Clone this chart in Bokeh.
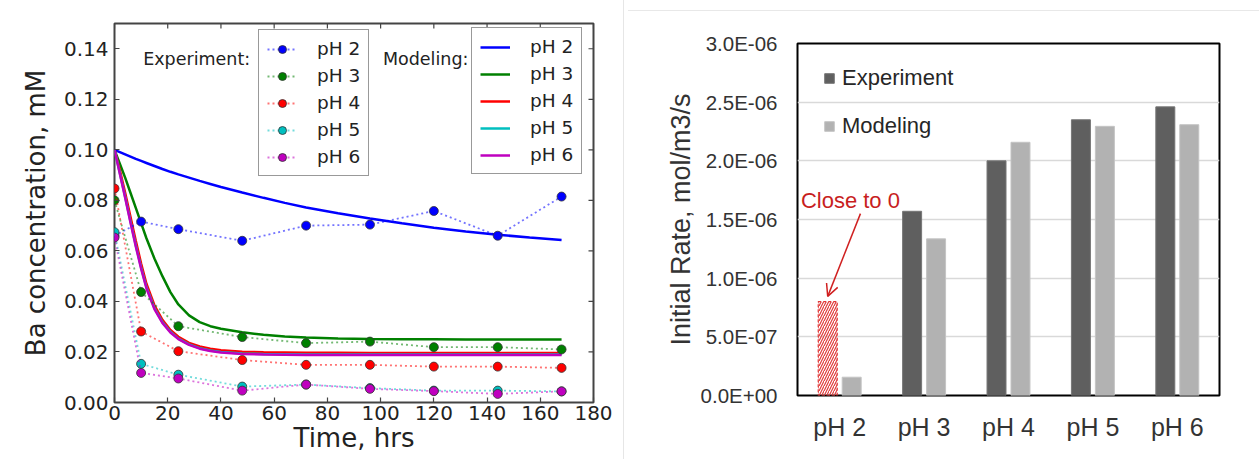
import math
from bokeh.plotting import figure
from bokeh.models import (Range1d, FixedTicker, SingleIntervalTicker, Legend, LegendItem,
                          Label, Arrow, OpenHead, ColumnDataSource, FactorRange, CustomJSTickFormatter,
                          CDSView, IndexFilter, Div, Spacer, NumeralTickFormatter)
from bokeh.layouts import row, column
from bokeh.transform import dodge
from bokeh.embed import file_html
from bokeh.resources import INLINE

# ---------------- data: left chart ----------------
ph_labels = ["pH 2", "pH 3", "pH 4", "pH 5", "pH 6"]
t_exp = [0, 10, 24, 48, 72, 96, 120, 144, 168]
exp_ph2 = [0.0660, 0.0716, 0.0686, 0.0640, 0.0700, 0.0704, 0.0758, 0.0660, 0.0815]
exp_ph3 = [0.0800, 0.0437, 0.0302, 0.0259, 0.0235, 0.0241, 0.0219, 0.0219, 0.0210]
exp_ph4 = [0.0847, 0.0281, 0.0203, 0.0168, 0.0149, 0.0149, 0.0142, 0.0142, 0.0137]
exp_ph5 = [0.0674, 0.0153, 0.0110, 0.0063, 0.0071, 0.0057, 0.0047, 0.0047, 0.0044]
exp_ph6 = [0.0653, 0.0117, 0.0095, 0.0047, 0.0071, 0.0054, 0.0045, 0.0034, 0.0044]

t_model = [0, 2, 4, 6, 8, 10, 12, 15, 18, 21, 24, 28, 32, 36, 40, 48, 56, 64, 72, 84, 96, 108, 120, 132, 144, 156, 168]
mod_ph2 = [0.1000, 0.0991, 0.0982, 0.0973, 0.0964, 0.0956, 0.0948, 0.0936, 0.0924, 0.0913, 0.0903, 0.0890,
           0.0877, 0.0865, 0.0853, 0.0831, 0.0810, 0.0790, 0.0772, 0.0749, 0.0728, 0.0709, 0.0692, 0.0677,
           0.0664, 0.0653, 0.0643]
mod_ph3 = [0.1000, 0.0945, 0.0890, 0.0830, 0.0770, 0.0710, 0.0650, 0.0570, 0.0500, 0.0437, 0.0388, 0.0345,
           0.0318, 0.0302, 0.0292, 0.0278, 0.0268, 0.0261, 0.0257, 0.0253, 0.0251, 0.0250, 0.0250, 0.0249,
           0.0249, 0.0249, 0.0249]
mod_ph4 = [0.1000, 0.0920, 0.0830, 0.0735, 0.0640, 0.0550, 0.0470, 0.0385, 0.0327, 0.0287, 0.0260, 0.0236,
           0.0222, 0.0213, 0.0207, 0.0201, 0.0199, 0.0198, 0.0197, 0.0197, 0.0196, 0.0196, 0.0196, 0.0196,
           0.0196, 0.0196, 0.0196]
mod_ph5 = [0.1000, 0.0908, 0.0814, 0.0716, 0.0622, 0.0534, 0.0456, 0.0374, 0.0318, 0.0280, 0.0253, 0.0230,
           0.0215, 0.0206, 0.0200, 0.0194, 0.0192, 0.0191, 0.0190, 0.0190, 0.0190, 0.0190, 0.0190, 0.0190,
           0.0190, 0.0190, 0.0190]
mod_ph6 = [0.1000, 0.0905, 0.0810, 0.0712, 0.0618, 0.0530, 0.0452, 0.0370, 0.0315, 0.0277, 0.0251, 0.0228,
           0.0213, 0.0204, 0.0198, 0.0192, 0.0190, 0.0189, 0.0188, 0.0188, 0.0188, 0.0188, 0.0188, 0.0188,
           0.0188, 0.0188, 0.0188]
x_ticks = [0, 20, 40, 60, 80, 100, 120, 140, 160, 180]
y_ticks = [0.00, 0.02, 0.04, 0.06, 0.08, 0.10, 0.12, 0.14]

# ---------------- data: right chart ----------------
rate_cats = ["pH 2", "pH 3", "pH 4", "pH 5", "pH 6"]
rate_exp = [0.80e-6, 1.57e-6, 2.00e-6, 2.35e-6, 2.46e-6]
rate_mod = [0.156e-6, 1.335e-6, 2.158e-6, 2.294e-6, 2.308e-6]

# ---------------- left chart ----------------
FONT_L = "DejaVu Sans"
colors = ["#0000ff", "#008000", "#ff0000", "#00bfbf", "#bf00bf"]
X_MAX, Y_MAX = 180, 0.15

p1 = figure(width=623, height=459, x_range=Range1d(0, X_MAX), y_range=Range1d(0, Y_MAX),
            output_backend="svg", toolbar_location=None,
            min_border_left=114, min_border_right=30, min_border_top=23, min_border_bottom=57)
p1.grid.visible = False
p1.outline_line_color = "#444444"
p1.outline_line_width = 2
p1.background_fill_color = "white"
p1.border_fill_color = "white"

def style_axis(ax):
    ax.axis_line_color = None
    ax.major_tick_in = 5
    ax.major_tick_out = 0
    ax.major_tick_line_color = "#444444"
    ax.major_tick_line_width = 1.2
    ax.minor_tick_line_color = None
    ax.major_label_text_font = FONT_L
    ax.major_label_text_font_size = "20px"
    ax.major_label_text_color = "#222222"
    ax.axis_label_text_font = FONT_L
    ax.axis_label_text_font_size = "26px"
    ax.axis_label_text_font_style = "normal"
    ax.axis_label_text_color = "#222222"

p1.xaxis.ticker = FixedTicker(ticks=x_ticks)
p1.yaxis.ticker = FixedTicker(ticks=y_ticks)
p1.yaxis.formatter = NumeralTickFormatter(format="0.00")
style_axis(p1.xaxis[0])
style_axis(p1.yaxis[0])
p1.xaxis.axis_label = "Time, hrs"
p1.yaxis.axis_label = "Ba concentration, mM"
p1.xaxis.major_label_standoff = 3
p1.yaxis.major_label_standoff = 6
p1.xaxis.axis_label_standoff = 0
p1.yaxis.axis_label_standoff = 10

# inward tick marks on the top and right edges (half of each dash is clipped by the frame)
p1.scatter(x=x_ticks, y=[Y_MAX] * len(x_ticks), marker="dash", angle=math.pi / 2, size=10,
           line_color="#444444", line_width=1.2)
p1.scatter(x=[X_MAX] * len(y_ticks), y=y_ticks, marker="dash", size=10,
           line_color="#444444", line_width=1.2)

exp_series = [exp_ph2, exp_ph3, exp_ph4, exp_ph5, exp_ph6]
mod_series = [mod_ph2, mod_ph3, mod_ph4, mod_ph5, mod_ph6]

mod_items = []
for lab, ys, c in zip(ph_labels, mod_series, colors):
    r = p1.line(t_model, ys, line_color=c, line_width=2.5)
    mod_items.append(LegendItem(label=lab, renderers=[r]))

exp_items = []
for lab, ys, c in zip(ph_labels, exp_series, colors):
    rl = p1.line(t_exp, ys, line_color=c, line_width=1.8, line_alpha=0.55, line_dash="2 3")
    rs = p1.scatter(t_exp, ys, size=9, fill_color=c, line_color="#333333", line_width=0.8)
    exp_items.append(LegendItem(label=lab, renderers=[rl, rs]))

def style_legend(leg):
    leg.label_text_font = FONT_L
    leg.label_text_font_size = "18.5px"
    leg.label_text_color = "#222222"
    leg.glyph_width = 30
    leg.glyph_height = 20
    leg.label_height = 20
    leg.spacing = 6
    leg.padding = 8
    leg.label_standoff = 20
    leg.margin = 0
    leg.border_line_color = "#333333"
    leg.border_line_width = 1.5
    leg.background_fill_color = "white"
    leg.background_fill_alpha = 1.0

leg_exp = Legend(items=exp_items, location=(144, 226))
style_legend(leg_exp)
leg_mod = Legend(items=mod_items, location=(357, 228))
style_legend(leg_mod)
p1.add_layout(leg_exp, "center")
p1.add_layout(leg_mod, "center")

p1.add_layout(Label(x=51, y=0.136, text="Experiment:", text_align="right", text_baseline="middle",
                    text_font=FONT_L, text_font_size="17.5px", text_color="#222222"))
p1.add_layout(Label(x=133, y=0.136, text="Modeling:", text_align="right", text_baseline="middle",
                    text_font=FONT_L, text_font_size="17.5px", text_color="#222222"))

# ---------------- right chart ----------------
FONT_R = "Liberation Sans"
src = ColumnDataSource(dict(cat=rate_cats, exp=rate_exp, mod=rate_mod))

p2 = figure(width=635, height=448, x_range=FactorRange(factors=rate_cats, range_padding=0),
            y_range=Range1d(0, 3e-6), output_backend="svg", toolbar_location=None,
            min_border_left=173, min_border_right=40, min_border_top=32, min_border_bottom=64)
p2.outline_line_color = "black"
p2.outline_line_width = 2
p2.xgrid.visible = False
p2.ygrid.grid_line_color = "#d9d9d9"
p2.ygrid.grid_line_width = 1.5
p2.yaxis.ticker = SingleIntervalTicker(interval=5e-7, num_minor_ticks=0)
p2.yaxis.formatter = CustomJSTickFormatter(code="""
const s = tick.toExponential(1);
const parts = s.split('e');
const n = parseInt(parts[1]);
const a = Math.abs(n);
return parts[0] + 'E' + (n < 0 ? '-' : '+') + (a < 10 ? '0' + a : '' + a);
""")
for ax in [p2.xaxis[0], p2.yaxis[0]]:
    ax.axis_line_color = None
    ax.major_tick_line_color = None
    ax.minor_tick_line_color = None
    ax.major_label_text_font = FONT_R
    ax.major_label_text_color = "#333333"
    ax.axis_label_text_font = FONT_R
    ax.axis_label_text_font_style = "normal"
    ax.axis_label_text_color = "#333333"
p2.yaxis.major_label_text_font_size = "20.5px"
p2.xaxis.major_label_text_font_size = "25px"
p2.yaxis.major_label_standoff = 14
p2.xaxis.major_label_standoff = 11
p2.yaxis.axis_label = "Initial Rate, mol/m3/s"
p2.yaxis.axis_label_text_font_size = "27px"
p2.yaxis.axis_label_standoff = 2

off = 0.142
bw = 0.225
r_exp = p2.vbar(x=dodge("cat", -off, range=p2.x_range), top="exp", width=bw, source=src,
                fill_color="#5f5f5f", line_color="#767676", line_width=1,
                view=CDSView(filter=IndexFilter([1, 2, 3, 4])))
p2.vbar(x=dodge("cat", -off, range=p2.x_range), top="exp", width=bw, source=src,
        fill_color=None, line_color="#e03a3a", line_width=1.2, line_dash="3 2",
        hatch_pattern="/", hatch_color="#e03a3a", hatch_scale=5, hatch_weight=1.2,
        view=CDSView(filter=IndexFilter([0])))
r_mod = p2.vbar(x=dodge("cat", off, range=p2.x_range), top="mod", width=bw, source=src,
                fill_color="#b2b2b2", line_color="#c4c4c4", line_width=1)

leg2 = Legend(items=[LegendItem(label="Experiment", renderers=[r_exp]),
                     LegendItem(label="Modeling", renderers=[r_mod])],
              location=(26, 256))
leg2.label_text_font = FONT_R
leg2.label_text_font_size = "22px"
leg2.label_text_color = "#262626"
leg2.glyph_width = 12
leg2.glyph_height = 12
leg2.label_height = 26
leg2.spacing = 22
leg2.padding = 0
leg2.margin = 0
leg2.label_standoff = 7
leg2.border_line_color = None
leg2.background_fill_alpha = 0
p2.add_layout(leg2, "center")

# annotation for pH 2 experiment bar
bar0_x = 0.5 - off
p2.add_layout(Arrow(end=OpenHead(size=12, line_color="#d02020", line_width=1.5),
                    x_start=0.746, y_start=1.55e-6, x_end=bar0_x, y_end=rate_exp[0] + 0.045e-6,
                    line_color="#d02020", line_width=1.5))
p2.add_layout(Label(x=0.627, y=1.66e-6, text="Close to 0", text_align="center", text_baseline="middle",
                    text_font=FONT_R, text_font_size="22px", text_color="#c81e1e"))

vline = Div(width=1, height=459, margin=(0, 0, 0, 0), styles={"background-color": "#e6e6e6"})
hline = Div(width=631, height=1, margin=(0, 0, 0, 4), styles={"background-color": "#e8e8e8"})
layout = row(p1, vline, column(Spacer(height=10, margin=(0, 0, 0, 0)), hline, p2))

open("out.html", "w").write(file_html(layout, INLINE))
